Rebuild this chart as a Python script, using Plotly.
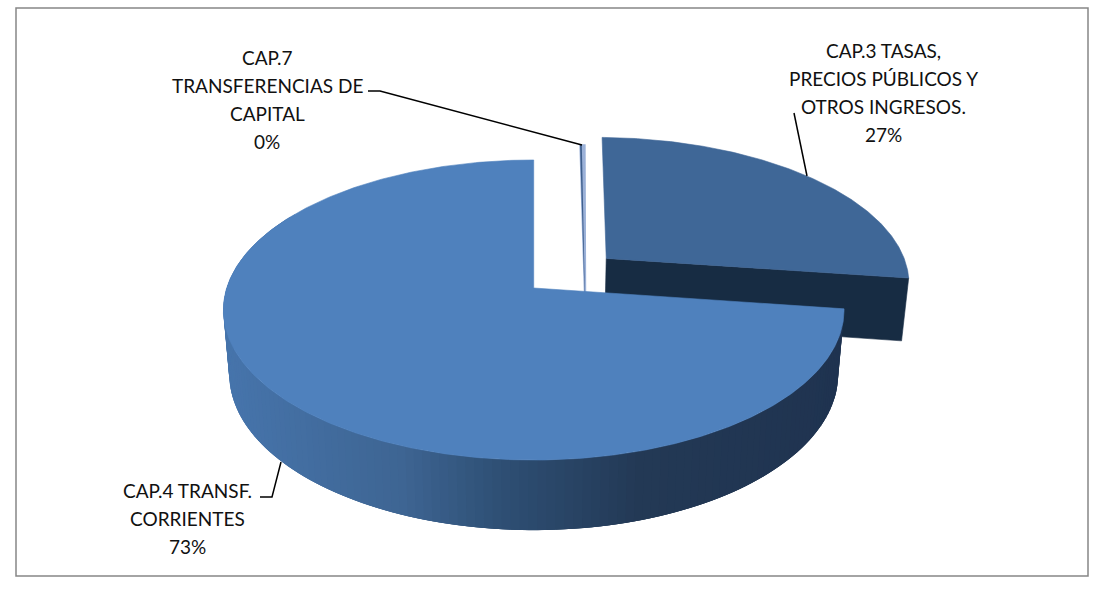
import numpy as np
import plotly.graph_objects as go

# ---- data ----
categories = ["CAP.3 TASAS, PRECIOS PÚBLICOS Y OTROS INGRESOS.", "CAP.4 TRANSF. CORRIENTES", "CAP.7 TRANSFERENCIAS DE CAPITAL"]
values = [27.0, 73.0, 0.3]
label_lines = [
    ["CAP.3 TASAS,", "PRECIOS PÚBLICOS Y", "OTROS INGRESOS."],
    ["CAP.4 TRANSF.", "CORRIENTES"],
    ["CAP.7", "TRANSFERENCIAS DE", "CAPITAL"],
]

# ---- style / layout ----
CX, CY, RX, RY, K = 533.7, 288.0, 307.0, 146.8, 0.1467
LOW_SX = 0.981
TOP_COL = ["#3f6797", "#4f81bd", "#9bb1d8"]
CUT_COL = "#172c43"
SLIVER_COL = "#3f5f8c"
GRAD_X = [228, 400, 500, 640, 845]
GRAD_RGB = [(70, 116, 171), (62, 101, 147), (46, 79, 116), (35, 57, 85), (31, 51, 80)]
LABEL_POS = [(883, 50), (187, 490), (267, 57)]
LINE_H = 28
LEADERS = [
    ([794, 807], [113, 176]),
    ([260, 272, 281], [497, 497, 462]),
    ([368, 380, 582], [91, 91, 145]),
]

spans = np.array(values) / sum(values) * 360.0
start3 = spans[2]
ranges = [(start3, start3 + spans[0]),
          (start3 + spans[0], start3 + spans[0] + spans[1]),
          (0.0, spans[2])]
bis = np.radians(sum(ranges[0]) / 2)
offsets = [(0.32 * np.sin(bis), 0.32 * np.cos(bis)), (0.0, 0.0), (0.176, 0.137)]


def project(u, v):
    u, v = np.asarray(u, float), np.asarray(v, float)
    w = 1 + K * v
    return CX + RX * u / w, CY - RY * v / w


def lower(x, y):
    return CX + (x - CX) * LOW_SX, y + 62 + (y - 257) * 0.04


def rim(a0, a1, off, n=200):
    t = np.radians(np.linspace(a0, a1, n))
    return project(off[0] + np.sin(t), off[1] + np.cos(t))


def poly(fig, x, y, color, name=None, lw=0.6):
    fig.add_trace(go.Scatter(x=list(x) + [x[0]], y=list(y) + [y[0]], mode="lines", fill="toself",
                             fillcolor=color, line=dict(color=color, width=lw),
                             hoverinfo="skip", showlegend=False, name=name))


fig = go.Figure()

# CAP.3: cut face, then top
a0, a1 = ranges[0]
ax, ay = project(*offsets[0])
ex, ey = rim(a1, a1, offsets[0], 1)
lax, lay = lower(ax, ay)
lex, ley = lower(ex, ey)
poly(fig, [float(ax), float(ex[0]), float(lex[0]), float(lax)],
     [float(ay), float(ey[0]), float(ley[0]), float(lay)], CUT_COL)
rx, ry = rim(a0, a1, offsets[0])
poly(fig, [float(ax)] + list(rx), [float(ay)] + list(ry), TOP_COL[0], categories[0])

# CAP.7: thin exploded slice
a0, a1 = ranges[2]
ax, ay = project(*offsets[2])
lax, lay = lower(ax, ay)
rx, ry = rim(a0, a1, offsets[2], 12)
poly(fig, [float(lax)] + list(rx), [float(lay)] + list(ry), TOP_COL[2], categories[2], lw=1.4)
poly(fig, [float(lax)] + list(rx[:5]), [float(lay)] + list(ry[:5]), SLIVER_COL, lw=0)

# CAP.4: shaded wall as overlapping strips, then top
a0, a1 = ranges[1]
edges = np.linspace(a0, 300, 140)
step = edges[1] - edges[0]
for e0 in edges[:-1]:
    sx, sy = rim(e0, e0 + 3 * step, offsets[1], 6)
    bx, by = lower(sx, sy)
    xm = float(rim(e0, e0 + step, offsets[1], 3)[0].mean())
    col = [int(round(np.interp(xm, GRAD_X, [c[i] for c in GRAD_RGB]))) for i in range(3)]
    poly(fig, list(sx) + list(bx[::-1]), list(sy) + list(by[::-1]), "rgb(%d,%d,%d)" % tuple(col), lw=0)
ax, ay = project(*offsets[1])
rx, ry = rim(a0, a1, offsets[1], 400)
poly(fig, [float(ax)] + list(rx), [float(ay)] + list(ry), TOP_COL[1], categories[1])

# leader lines
for lx, ly in LEADERS:
    fig.add_trace(go.Scatter(x=lx, y=ly, mode="lines", line=dict(color="#000000", width=1.5),
                             hoverinfo="skip", showlegend=False))

# labels
for lines, val, (px, py) in zip(label_lines, values, LABEL_POS):
    for i, txt in enumerate(lines + ["%d%%" % round(val)]):
        fig.add_annotation(x=px, y=py + i * LINE_H, text=txt, showarrow=False, xanchor="center", yanchor="middle",
                           font=dict(family="Lato, Carlito, sans-serif", size=19, color="#111111"))

fig.update_layout(
    width=1104, height=600, margin=dict(l=0, r=0, t=0, b=0), paper_bgcolor="white", plot_bgcolor="white",
    xaxis=dict(range=[0, 1104], visible=False, fixedrange=True),
    yaxis=dict(range=[600, 0], visible=False, fixedrange=True),
    showlegend=False,
    shapes=[dict(type="rect", x0=16, y0=8, x1=1088, y1=576, line=dict(color="#868686", width=1.5), layer="below")],
)
fig.write_html("out.html", config={"displayModeBar": False},
               post_script="document.body.style.margin='0';document.documentElement.style.overflow='hidden';")
